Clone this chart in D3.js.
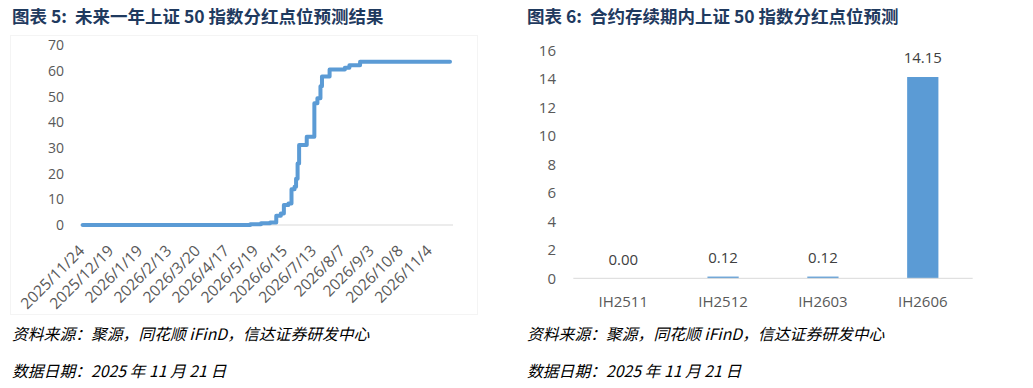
<!DOCTYPE html>
<html>
<head>
<meta charset="utf-8">
<script src="https://cdn.jsdelivr.net/npm/d3@7"></script>
<style>
  body { margin: 0; background: #fff; }
  text { white-space: pre; }
</style>
</head>
<body>
<div id="chart"></div>
<script>
const WIDTH = 1033;
const HEIGHT = 388;
const BLUE = "#5b9bd5";
const AXIS_GREY = "#d9d9d9";
const TICK_GREY = "#595959";
const TITLE_BLUE = "#1f3a5f";
const NUM_FONT = "'Open Sans', 'Noto Sans', sans-serif";
const CJK_FONT = "'Noto Sans CJK SC', 'Noto Sans', sans-serif";

// chart 5: trading days over the next year, every 19th day gets a label
const NUM_DAYS = 242;
const LABEL_STEP = 19;
const dateLabels = [
  "2025/11/24", "2025/12/19", "2026/1/19", "2026/2/13", "2026/3/20",
  "2026/4/17", "2026/5/19", "2026/6/15", "2026/7/13", "2026/8/7",
  "2026/9/3", "2026/10/8", "2026/11/4",
];
// day index where the cumulative dividend points change, and the new level
const stepDays = [0, 110, 117, 123, 127, 130, 132, 135, 137, 139, 140, 141, 142,
  147, 152, 154, 156, 157, 162, 172, 175, 182, 241];
const stepPoints = [0, 0.3, 0.65, 1.0, 3.6, 4.5, 7.8, 8.4, 13.9, 14.9, 18, 24, 31.2,
  34.4, 47.4, 49.4, 54, 57.8, 60.6, 61.3, 62.2, 63.6, 63.6];
const lineTicks = [0, 10, 20, 30, 40, 50, 60, 70];

// chart 6: per contract
const contracts = ["IH2511", "IH2512", "IH2603", "IH2606"];
const contractPoints = [0.0, 0.12, 0.12, 14.15];
const barTicks = [0, 2, 4, 6, 8, 10, 12, 14, 16];

const svg = d3.select("#chart")
  .append("svg")
  .attr("width", WIDTH)
  .attr("height", HEIGHT);

// Titles and notes
const titles = [
  { x: 12, text: "图表 5:  未来一年上证 50 指数分红点位预测结果" },
  { x: 527, text: "图表 6:  合约存续期内上证 50 指数分红点位预测" },
];
titles.forEach(t => {
  svg.append("text")
    .attr("x", t.x)
    .attr("y", 23)
    .attr("font-family", CJK_FONT)
    .attr("font-weight", "bold")
    .attr("font-size", 17.5)
    .attr("fill", TITLE_BLUE)
    .text(t.text);
  svg.append("text")
    .attr("x", t.x)
    .attr("y", 340)
    .attr("font-family", CJK_FONT)
    .attr("font-style", "italic")
    .attr("font-size", 15.8)
    .attr("fill", "#000")
    .text("资料来源：聚源，同花顺 iFinD，信达证券研发中心");
  svg.append("text")
    .attr("x", t.x)
    .attr("y", 377)
    .attr("font-family", CJK_FONT)
    .attr("font-style", "italic")
    .attr("font-size", 15.8)
    .attr("fill", "#000")
    .text("数据日期：2025 年 11 月 21 日");
});

// faint frame round chart 5
svg.append("rect")
  .attr("x", 10.5)
  .attr("y", 35.5)
  .attr("width", 467)
  .attr("height", 279)
  .attr("fill", "none")
  .attr("stroke", "#f4f4f4");

// Chart 5 - line
const x5 = d3.scaleLinear().domain([0, NUM_DAYS - 1]).range([82.7, 450]);
const y5 = d3.scaleLinear().domain([0, 70]).range([225, 45.3]);

const g5 = svg.append("g");

g5.append("line")
  .attr("x1", 80)
  .attr("x2", 453)
  .attr("y1", y5(0))
  .attr("y2", y5(0))
  .attr("stroke", AXIS_GREY)
  .attr("stroke-width", 1);

g5.selectAll(".ytick")
  .data(lineTicks)
  .join("text")
  .attr("x", 64)
  .attr("y", d => y5(d))
  .attr("dy", "0.35em")
  .attr("text-anchor", "end")
  .attr("font-family", NUM_FONT)
  .attr("font-size", 14)
  .attr("fill", TICK_GREY)
  .text(d => d);

g5.selectAll(".xtick")
  .data(dateLabels)
  .join("text")
  .attr("transform", (d, i) => `translate(${x5(i * LABEL_STEP) - 1},${y5(0) + 23}) rotate(-45)`)
  .attr("dy", "0.35em")
  .attr("text-anchor", "end")
  .attr("font-family", NUM_FONT)
  .attr("font-size", 15.5)
  .attr("fill", TICK_GREY)
  .text(d => d);

const line = d3.line()
  .x(d => x5(d[0]))
  .y(d => y5(d[1]))
  .curve(d3.curveStepAfter);

g5.append("path")
  .datum(d3.zip(stepDays, stepPoints))
  .attr("d", line)
  .attr("fill", "none")
  .attr("stroke", BLUE)
  .attr("stroke-width", 4)
  .attr("stroke-linejoin", "round")
  .attr("stroke-linecap", "round");

// Chart 6 - bars
const x6 = d3.scaleBand()
  .domain(contracts)
  .range([573.3, 972.7])
  .paddingInner(0.687)
  .paddingOuter(0.3435);
const y6 = d3.scaleLinear().domain([0, 16]).range([278.3, 50.7]);

const g6 = svg.append("g");

g6.selectAll(".ytick")
  .data(barTicks)
  .join("text")
  .attr("x", 556)
  .attr("y", d => y6(d))
  .attr("dy", "0.35em")
  .attr("text-anchor", "end")
  .attr("font-family", NUM_FONT)
  .attr("font-size", 15)
  .attr("fill", TICK_GREY)
  .text(d => d);

g6.selectAll(".bar")
  .data(contracts)
  .join("rect")
  .attr("x", d => x6(d))
  .attr("width", x6.bandwidth())
  .attr("y", (d, i) => y6(contractPoints[i]))
  .attr("height", (d, i) => y6(0) - y6(contractPoints[i]))
  .attr("fill", BLUE);

g6.append("line")
  .attr("x1", 573.3)
  .attr("x2", 972.7)
  .attr("y1", y6(0))
  .attr("y2", y6(0))
  .attr("stroke", AXIS_GREY)
  .attr("stroke-width", 1);

g6.selectAll(".value")
  .data(contracts)
  .join("text")
  .attr("x", d => x6(d) + x6.bandwidth() / 2)
  .attr("y", (d, i) => y6(contractPoints[i]) - 19)
  .attr("dy", "0.35em")
  .attr("text-anchor", "middle")
  .attr("font-family", NUM_FONT)
  .attr("font-size", 15)
  .attr("fill", "#404040")
  .text((d, i) => d3.format(".2f")(contractPoints[i]));

g6.selectAll(".xtick")
  .data(contracts)
  .join("text")
  .attr("x", d => x6(d) + x6.bandwidth() / 2)
  .attr("y", 301.7)
  .attr("dy", "0.35em")
  .attr("text-anchor", "middle")
  .attr("font-family", NUM_FONT)
  .attr("font-size", 15)
  .attr("fill", TICK_GREY)
  .text(d => d);
</script>
</body>
</html>
